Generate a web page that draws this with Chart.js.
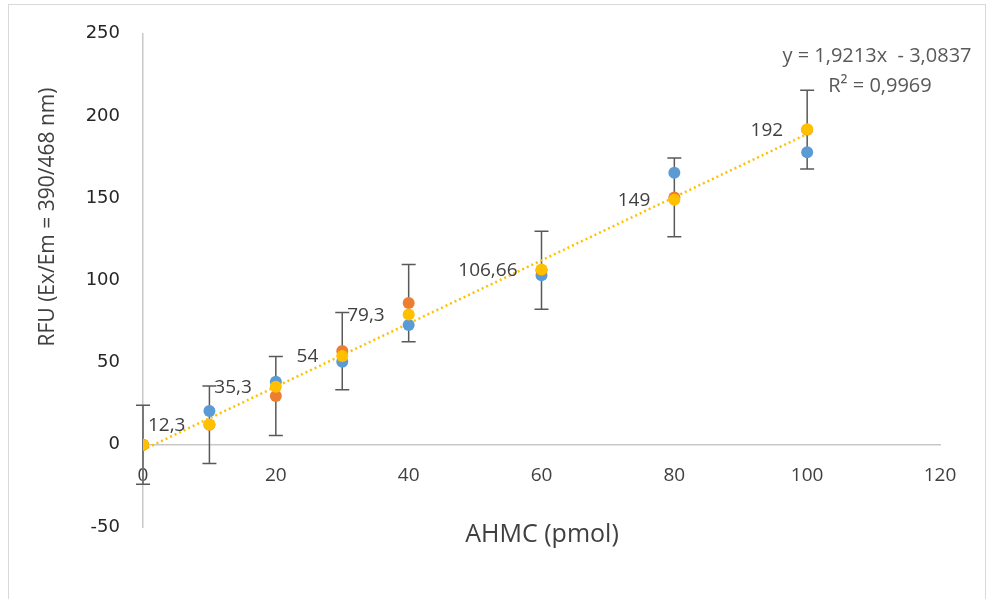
<!DOCTYPE html>
<html>
<head>
<meta charset="utf-8">
<script src="https://cdn.jsdelivr.net/npm/chart.js@4"></script>
<style>
  html, body { margin: 0; padding: 0; background: #fff; }
  #wrap { width: 987px; height: 599px; }
</style>
</head>
<body>
<div id="wrap"><canvas id="chart" width="987" height="599"></canvas></div>
<script>
// AHMC mennyiség (pmol)
const amounts = [0, 10, 20, 30, 40, 60, 80, 100];
const blueVals = [0, 20.6, 38.4, 50.5, 72.8, 103.2, 165.5, 178];
const orangeVals = [0, 12.2, 29.7, 57.0, 86.2, 106.2, 150.5, 191.7];
const meanVals = [0, 12.3, 35.3, 54, 79.3, 106.66, 149, 192];
// hibasávok (az narancs sorozaton)
const errVals = [24, 23.6, 24, 23.5, 23.5, 23.7, 24, 24];
// trendvonal végpontjai az egyenletből: y = 1,9213x - 3,0837
const trendX = [0, 100];
const trendY = [-3.08, 189.05];

const xTicks = [0, 20, 40, 60, 80, 100, 120];
const yTicks = [-50, 0, 50, 100, 150, 200, 250];
const eqLines = ["y = 1,9213x  - 3,0837", "R² = 0,9969"];

const pts = (xs, ys) => xs.map((x, i) => ({ x, y: ys[i] }));

const frame = {
  id: "frame",
  beforeDraw(chart) {
    const ctx = chart.ctx;
    ctx.save();
    ctx.fillStyle = "#fff";
    ctx.fillRect(0, 0, chart.width, chart.height);
    ctx.strokeStyle = "#d9d9d9";
    ctx.lineWidth = 1;
    ctx.strokeRect(8.5, 4.5, 977, 600);
    ctx.restore();
  }
};

const errorBars = {
  id: "errorBars",
  beforeDatasetsDraw(chart) {
    const { ctx, scales: { x, y } } = chart;
    ctx.save();
    ctx.strokeStyle = "#595959";
    ctx.lineWidth = 1.5;
    amounts.forEach((a, i) => {
      const px = x.getPixelForValue(a);
      const top = y.getPixelForValue(orangeVals[i] + errVals[i]);
      const bot = y.getPixelForValue(orangeVals[i] - errVals[i]);
      ctx.beginPath();
      ctx.moveTo(px, top); ctx.lineTo(px, bot);
      ctx.moveTo(px - 7, top); ctx.lineTo(px + 7, top);
      ctx.moveTo(px - 7, bot); ctx.lineTo(px + 7, bot);
      ctx.stroke();
    });
    ctx.restore();
  }
};

const texts = {
  id: "texts",
  afterDatasetsDraw(chart) {
    const ctx = chart.ctx;
    const meta = chart.getDatasetMeta(3);
    ctx.save();
    ctx.fillStyle = "#404040";
    ctx.font = "19px 'Open Sans'";
    ctx.textAlign = "right";
    ctx.textBaseline = "middle";
    meta.data.forEach((el, i) => {
      if (meanVals[i] === 0) return;
      ctx.fillText(String(meanVals[i]).replace(".", ","), el.x - 24, el.y + 1);
    });

    // trendvonal egyenlete
    ctx.fillStyle = "#595959";
    ctx.font = "20px 'Open Sans'";
    ctx.textAlign = "center";
    ctx.fillText(eqLines[0], 877, 56);
    ctx.fillText(eqLines[1], 880, 86);

    // tengelycímek
    ctx.fillStyle = "#404040";
    ctx.font = "25px 'Open Sans'";
    ctx.fillText("AHMC (pmol)", 542, 535);
    ctx.translate(48, 217);
    ctx.rotate(-Math.PI / 2);
    ctx.font = "21px 'Open Sans'";
    ctx.fillText("RFU (Ex/Em = 390/468 nm)", 0, 0);
    ctx.restore();
  }
};

new Chart(document.getElementById("chart"), {
  type: "scatter",
  data: {
    datasets: [
      {
        label: "trend",
        data: pts(trendX, trendY),
        showLine: true,
        pointRadius: 0,
        borderColor: "#FFC000",
        borderWidth: 2.5,
        borderDash: [2, 3],
        order: 4
      },
      {
        label: "1",
        data: pts(amounts, blueVals),
        pointRadius: 6,
        pointBorderWidth: 0,
        backgroundColor: "#5B9BD5",
        borderColor: "#5B9BD5",
        order: 3
      },
      {
        label: "2",
        data: pts(amounts, orangeVals),
        pointRadius: 6,
        pointBorderWidth: 0,
        backgroundColor: "#ED7D31",
        borderColor: "#ED7D31",
        order: 2
      },
      {
        label: "átlag",
        data: pts(amounts, meanVals),
        pointRadius: 6,
        pointBorderWidth: 0,
        backgroundColor: "#FFC000",
        borderColor: "#FFC000",
        order: 1
      }
    ]
  },
  options: {
    responsive: false,
    animation: false,
    layout: { padding: { top: 33, right: 47, bottom: 72, left: 0 } },
    plugins: { legend: { display: false }, tooltip: { enabled: false } },
    scales: {
      x: {
        type: "linear",
        position: { y: 0 },
        min: xTicks[0],
        max: xTicks[xTicks.length - 1],
        afterBuildTicks: s => { s.ticks = xTicks.map(v => ({ value: v })); },
        grid: { display: false, drawTicks: false },
        border: { display: true, color: "#c8c8c8", width: 1.5 },
        ticks: { padding: 19, color: "#404040", font: { family: "'Open Sans'", size: 19 } }
      },
      y: {
        type: "linear",
        position: "left",
        min: yTicks[0],
        max: yTicks[yTicks.length - 1],
        afterBuildTicks: s => { s.ticks = yTicks.map(v => ({ value: v })); },
        afterFit: s => { s.width = 143; },
        grid: { display: false, drawTicks: false },
        border: { display: true, color: "#c8c8c8", width: 1.5 },
        ticks: { padding: 23, color: "#262626", font: { family: "'DejaVu Sans'", size: 18 } }
      }
    }
  },
  plugins: [frame, errorBars, texts]
});
</script>
</body>
</html>
